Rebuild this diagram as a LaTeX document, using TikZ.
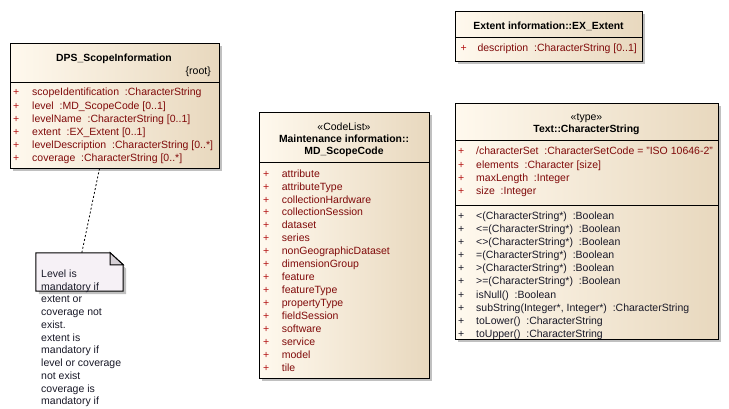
\documentclass[tikz,border=0pt]{standalone}
\usepackage{fontspec}
\setmainfont{Liberation Sans}
\usetikzlibrary{fit,shadows,calc}
\definecolor{fillL}{RGB}{255,249,238}
\definecolor{fillR}{RGB}{232,216,190}
\definecolor{attrc}{RGB}{128,10,10}
\definecolor{plusc}{RGB}{180,20,20}
\definecolor{optxt}{RGB}{25,25,40}
\definecolor{shadowc}{RGB}{192,192,192}
\definecolor{notefill}{RGB}{246,241,246}
\definecolor{foldc}{RGB}{214,208,214}
\begin{document}
\begin{tikzpicture}[x=1bp,y=-1bp,
  classbox/.style={draw=black, line width=1bp, inner sep=0pt, left color=fillL, right color=fillR,
    drop shadow={shadow xshift=3bp, shadow yshift=-3bp, fill=shadowc, opacity=1}},
  sepline/.style={draw=black, line width=1bp},
  txt/.style={inner sep=0pt, font=\fontsize{10.5bp}{13bp}\selectfont},
  ttl/.style={txt, anchor=base, font=\fontsize{10.4bp}{13bp}\selectfont\bfseries, text=black},
  stereo/.style={txt, anchor=base, text=black},
  attr/.style={txt, anchor=base west, text=attrc},
  aplus/.style={txt, anchor=base west, text=plusc},
  oper/.style={txt, anchor=base west, text=optxt},
  oplus/.style={txt, anchor=base west, text=optxt},
  notetxt/.style={txt, anchor=base west, text=optxt},
  conn/.style={draw=black, line width=0.8bp, dash pattern=on 2bp off 2bp}]
\useasboundingbox (0,0) rectangle (729,408);
\fill[white] (0,0) rectangle (729,408);
\def\bo{3.9}

% ---------- DPS_ScopeInformation ----------
\node[classbox, fit={(10,43)(219,168)}] (dps) {};
\draw[sepline] (10,82) -- (219,82);
\node[ttl] (dpsT) at (114,57.5+\bo) {DPS\_ScopeInformation};
\node[stereo, anchor=base east] (dpsR) at (211,71+\bo) {\{root\}};
\foreach \t [count=\i] in {
  {scopeIdentification\ \ :CharacterString},
  {level\ \ :MD\_ScopeCode [0..1]},
  {levelName\ \ :CharacterString [0..1]},
  {extent\ \ :EX\_Extent [0..1]},
  {levelDescription\ \ :CharacterString [0..*]},
  {coverage\ \ :CharacterString [0..*]}} {
  \node[aplus] (dpsP\i) at (13,{92+\bo+13.2*(\i-1)}) {+};
  \node[attr] (dpsA\i) at (32,{92+\bo+13.2*(\i-1)}) {\t};
}

% ---------- Note ----------
\node[inner sep=0pt, fit={(36,253)(123,291)}] (note) {};
\fill[shadowc] ($(note.north west)+(3,3)$) -- ($(note.north east)+(-10,3)$) -- ($(note.north east)+(3,16)$) -- ($(note.south east)+(3,3)$) -- ($(note.south west)+(3,3)$) -- cycle;
\draw[line width=1bp, fill=notefill] (note.north west) -- ($(note.north east)+(-13,0)$) -- ($(note.north east)+(0,12)$) -- (note.south east) -- (note.south west) -- cycle;
\draw[line width=1bp, fill=foldc] ($(note.north east)+(-13,0)$) -- ($(note.north east)+(-13,12)$) -- ($(note.north east)+(0,12)$) -- cycle;
\foreach \t [count=\i] in {Level is, mandatory if, extent or, coverage not, exist., extent is, mandatory if, level or coverage, not exist, coverage is, mandatory if} {
  \node[notetxt] (nt\i) at (41,{273.5+\bo+12.75*(\i-1)}) {\t};
}
\draw[conn] ($(dps.south west)+(90,0)$) -- ($(note.north west)+(46,0)$);

% ---------- MD_ScopeCode ----------
\node[classbox, fit={(259,112)(429,378)}] (md) {};
\draw[sepline] (259,162) -- (429,162);
\node[stereo] (mdS) at (344,127+\bo) {«CodeList»};
\node[ttl] (mdT1) at (344,139+\bo) {Maintenance information::};
\node[ttl] (mdT2) at (344,150.7+\bo) {MD\_ScopeCode};
\foreach \t [count=\i] in {attribute, attributeType, collectionHardware, collectionSession, dataset, series, nonGeographicDataset, dimensionGroup, feature, featureType, propertyType, fieldSession, software, service, model, tile} {
  \node[aplus] (mdP\i) at (263,{173.3+\bo+12.93*(\i-1)}) {+};
  \node[attr] (mdA\i) at (281.7,{173.3+\bo+12.93*(\i-1)}) {\t};
}

% ---------- EX_Extent ----------
\node[classbox, fit={(455,11)(642,61)}] (ex) {};
\draw[sepline] (455,37.3) -- (642,37.3);
\node[ttl] (exT) at (548.5,25.7+\bo) {Extent information::EX\_Extent};
\node[aplus] (exP1) at (460.5,47.7+\bo) {+};
\node[attr] (exA1) at (477.3,47.7+\bo) {description\ \ :CharacterString [0..1]};

% ---------- Text::CharacterString ----------
\node[classbox, fit={(455,103)(718,339)}] (cs) {};
\draw[sepline] (455,140) -- (718,140);
\draw[sepline] (455,205.7) -- (718,205.7);
\node[stereo] (csS) at (586.5,116.7+\bo) {«type»};
\node[ttl] (csT) at (586.5,128.3+\bo) {Text::CharacterString};
\foreach \t [count=\i] in {
  {/characterSet\ \ :CharacterSetCode = "ISO 10646-2"},
  {elements\ \ :Character [size]},
  {maxLength\ \ :Integer},
  {size\ \ :Integer}} {
  \node[aplus] (csP\i) at (458,{151+\bo+13.1*(\i-1)}) {+};
  \node[attr] (csA\i) at (476,{151+\bo+13.1*(\i-1)}) {\t};
}
\foreach \t [count=\i] in {
  {<(CharacterString*)\ \ :Boolean},
  {<=(CharacterString*)\ \ :Boolean},
  {<>(CharacterString*)\ \ :Boolean},
  {=(CharacterString*)\ \ :Boolean},
  {>(CharacterString*)\ \ :Boolean},
  {>=(CharacterString*)\ \ :Boolean},
  {isNull()\ \ :Boolean},
  {subString(Integer*, Integer*)\ \ :CharacterString},
  {toLower()\ \ :CharacterString},
  {toUpper()\ \ :CharacterString}} {
  \node[oplus] (csQ\i) at (458,{215.7+\bo+13.07*(\i-1)}) {+};
  \node[oper] (csO\i) at (476,{215.7+\bo+13.07*(\i-1)}) {\t};
}
\end{tikzpicture}
\end{document}
